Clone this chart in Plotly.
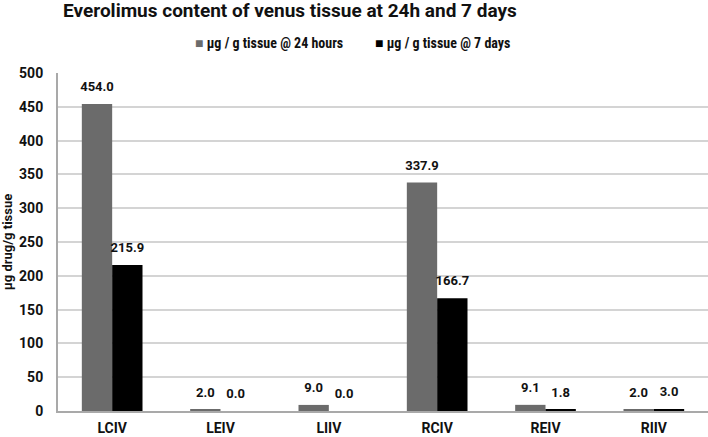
import plotly.graph_objects as go

categories = ["LCIV", "LEIV", "LIIV", "RCIV", "REIV", "RIIV"]
h24 = [454.0, 2.0, 9.0, 337.9, 9.1, 2.0]
d7 = [215.9, 0.0, 0.0, 166.7, 1.8, 3.0]
series_names = ["µg / g tissue @ 24 hours", "µg / g tissue @ 7 days"]
series_colors = ["#6b6b6b", "#000000"]

FONT = "Roboto, Arial"
LFONT = "Roboto Condensed, Roboto, Arial"
TXT = "#111111"
GAP = 0.44

fig = go.Figure()
for vals, name, col in zip([h24, d7], series_names, series_colors):
    fig.add_trace(go.Bar(x=categories, y=vals, name=name, marker_color=col,
                         marker_line_width=0, showlegend=False, hoverinfo="skip"))
for vals, name in zip([h24, d7], series_names):
    fig.add_trace(go.Scatter(x=categories, y=vals, name=name, mode="markers+text",
                             marker=dict(size=14, opacity=0), showlegend=False,
                             text=[f"<b>{v:.1f}</b>" for v in vals], textposition="top center",
                             textfont=dict(size=13, color=TXT, family=FONT),
                             cliponaxis=False, hoverinfo="skip"))

# legend drawn as text entries
legend_x = [193, 373]
for name, col, px in zip(series_names, series_colors, legend_x):
    fig.add_annotation(text=f"<span style='color:{col}'>■</span> <b>{name}</b>",
                       xref="paper", yref="paper", x=(px - 58) / 650, y=(411 - 43) / 338,
                       xanchor="left", yanchor="middle", showarrow=False,
                       font=dict(size=14, family=LFONT, color=TXT))

fig.add_annotation(text="<b>Everolimus content of venus tissue at 24h and 7 days</b>",
                   xref="paper", yref="paper", x=(61 - 58) / 650, y=(411 - 10) / 338,
                   xanchor="left", yanchor="middle", showarrow=False,
                   font=dict(size=19, family=FONT, color=TXT))

fig.update_layout(
    width=708, height=437,
    margin=dict(l=58, r=0, t=73, b=26),
    paper_bgcolor="white", plot_bgcolor="white",
    barmode="group", bargap=GAP, bargroupgap=0,
    scattermode="group", scattergap=GAP,
    font=dict(family=FONT, color=TXT, size=13),
    showlegend=False,
    xaxis=dict(showline=True, linecolor="#a9a9a9", linewidth=2, ticks="",
               tickfont=dict(size=14, family=FONT, color=TXT), ticklabelstandoff=3,
               tickprefix="<b>", ticksuffix="</b>"),
    yaxis=dict(range=[0, 500], dtick=50, showgrid=True, gridcolor="#d4d4d4", gridwidth=2,
               showline=True, linecolor="#a9a9a9", linewidth=2, zeroline=False, ticks="",
               tickfont=dict(size=14, family=FONT, color=TXT), ticklabelstandoff=10,
               tickprefix="<b>", ticksuffix="</b>",
               title=dict(text="<b>µg drug/g tissue</b>", standoff=6,
                          font=dict(size=13, family=FONT, color=TXT))),
)

fig.write_html("out.html")
